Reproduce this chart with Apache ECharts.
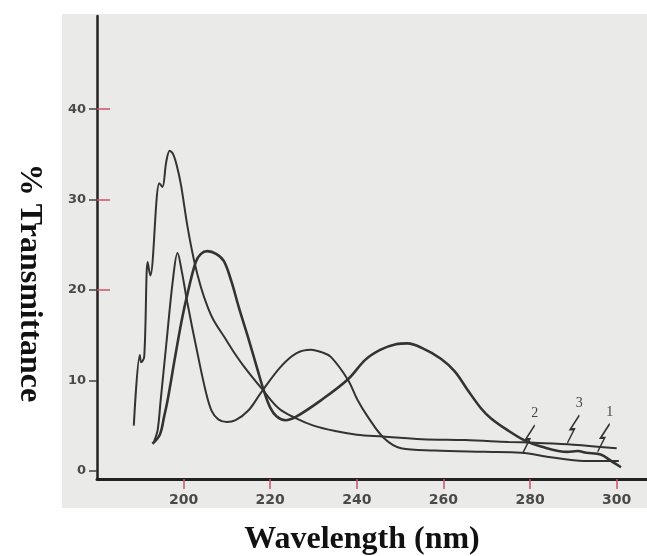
<!DOCTYPE html>
<html>
<head>
<meta charset="utf-8">
<script src="https://cdn.jsdelivr.net/npm/echarts@6/dist/echarts.min.js"></script>
<style>
  html, body { margin: 0; padding: 0; background: #fff; }
  #chart { width: 647px; height: 556px; }
</style>
</head>
<body>
<div id="chart"></div>
<script>
// tick labels
var xTicks = [200, 220, 240, 260, 280, 300];
var yTicks = [0, 10, 20, 30, 40];
var yRedTicks = [20, 30, 40];

// curve 1: broad peaks near 206 and 251 nm
var wl1 = [192.8, 194.5, 195.5, 196.3, 198.0, 199.5, 200.9, 202.8, 204.0, 205.5, 207.5, 209.3, 211.0, 212.8, 214.8, 217.0, 218.5, 220.0, 221.5, 223.5, 226.0, 231.7, 237.9, 242.0, 245.5, 249.0, 251.7, 255.0, 259.4, 262.6, 265.5, 268.7, 271.0, 274.8, 278.6, 282.5, 288.6, 291.0, 293.0, 296.3, 299.0, 301.0];
var t1 = [3.0, 4.0, 6.0, 7.8, 12.5, 16.5, 19.6, 23.1, 24.0, 24.3, 24.0, 23.2, 21.0, 18.0, 14.9, 11.3, 8.9, 7.0, 6.0, 5.6, 6.0, 7.8, 10.1, 12.3, 13.4, 14.0, 14.1, 13.6, 12.4, 11.0, 9.0, 6.9, 5.8, 4.5, 3.4, 2.7, 2.1, 2.2, 2.0, 1.8, 1.0, 0.4];

// curve 2: narrow peak near 199 nm, hump near 230 nm
var wl2 = [193.2, 194.0, 194.7, 196.0, 197.5, 198.6, 199.6, 200.9, 203.2, 205.1, 206.5, 208.0, 210.0, 212.0, 215.0, 217.8, 222.4, 226.0, 229.4, 232.0, 234.0, 237.9, 240.2, 242.5, 246.3, 250.2, 257.9, 269.4, 277.9, 284.8, 292.4, 300.5];
var t2 = [3.3, 4.5, 7.8, 14.0, 21.0, 24.1, 22.0, 18.5, 13.0, 8.8, 6.6, 5.7, 5.4, 5.6, 6.7, 8.6, 11.5, 13.0, 13.4, 13.1, 12.6, 10.1, 7.8, 6.0, 3.6, 2.5, 2.25, 2.1, 2.0, 1.5, 1.1, 1.1];

// curve 3: tall peak near 197 nm
var wl3 = [188.5, 189.9, 190.2, 190.9, 191.7, 192.3, 194.4, 195.1, 196.0, 196.8, 197.6, 198.5, 199.4, 200.9, 202.4, 204.0, 205.5, 207.0, 209.4, 211.5, 214.0, 218.2, 222.0, 226.0, 230.0, 235.0, 240.0, 246.0, 255.0, 265.0, 275.0, 281.0, 290.0, 300.0];
var t3 = [5.0, 12.8, 12.0, 12.6, 23.1, 21.6, 31.8, 31.4, 34.2, 35.4, 35.0, 33.6, 31.6, 27.0, 23.3, 20.3, 18.2, 16.6, 14.8, 13.2, 11.5, 9.0, 6.9, 5.8, 5.0, 4.4, 4.0, 3.8, 3.5, 3.4, 3.2, 3.1, 2.9, 2.5];

// where the numbered leader marks touch each curve
var labelAt1 = [295.6, 2.1];
var labelAt2 = [278.3, 1.95];
var labelAt3 = [288.6, 3.06];

function pairs(xs, ys) {
  return xs.map(function (x, i) {
    return [x, ys[i]];
  });
}

var zigzag = "path://M0,28 L7,14 L3,14 L12,0";

function leader(name, at) {
  return {
    symbol: zigzag,
    symbolSize: [12, 28],
    symbolOffset: [6, -14],
    silent: true,
    itemStyle: { color: "none", borderColor: "#333", borderWidth: 1.6 },
    label: {
      show: true,
      position: "top",
      distance: 1,
      offset: [6, 0],
      color: "#444",
      fontSize: 14,
      fontFamily: "Liberation Serif",
      formatter: name,
    },
    data: [{ name: name, coord: at }],
  };
}

function curve(name, xs, ys, width, at) {
  return {
    name: name,
    type: "line",
    data: pairs(xs, ys),
    showSymbol: false,
    symbol: "none",
    smooth: 0.35,
    lineStyle: { color: "#333", width: width },
    markPoint: leader(name, at),
  };
}

var myChart = echarts.init(document.getElementById("chart"));
var option = {
  backgroundColor: "#fff",
  animation: false,
  graphic: [
    {
      type: "rect",
      z: -10,
      silent: true,
      shape: { x: 62, y: 14, width: 585, height: 494 },
      style: { fill: "#eaeae8" },
    },
    {
      type: "text",
      x: 29,
      y: 283,
      rotation: -Math.PI / 2,
      style: {
        text: "% Transmittance",
        font: "bold 32px 'Liberation Serif'",
        fill: "#111",
        textAlign: "center",
        textVerticalAlign: "middle",
      },
    },
    {
      type: "text",
      x: 362,
      y: 540,
      style: {
        text: "Wavelength (nm)",
        font: "bold 32px 'Liberation Serif'",
        fill: "#111",
        textAlign: "center",
        textVerticalAlign: "middle",
      },
    },
  ],
  grid: { left: 97, right: 0, top: 16, bottom: 77 },
  xAxis: {
    type: "value",
    min: 180,
    max: 307,
    axisLine: { onZero: false, lineStyle: { color: "#222", width: 3 } },
    axisTick: {
      customValues: xTicks,
      length: 10,
      lineStyle: { color: "#d0506a", width: 1.5 },
    },
    axisLabel: {
      customValues: xTicks,
      margin: 14,
      color: "#4a4a4a",
      fontSize: 14,
      fontWeight: "bold",
      fontFamily: "DejaVu Sans",
    },
    splitLine: { show: false },
  },
  yAxis: [
    {
      type: "value",
      min: -0.9,
      max: 50.3,
      axisLine: { show: true, onZero: false, lineStyle: { color: "#222", width: 2.5 } },
      axisTick: {
        show: true,
        customValues: yTicks,
        length: 8,
        lineStyle: { color: "#444", width: 1.5 },
      },
      axisLabel: {
        customValues: yTicks,
        margin: 11,
        color: "#4a4a4a",
        fontSize: 13,
        fontWeight: "bold",
        fontFamily: "DejaVu Sans",
      },
      splitLine: { show: false },
    },
    {
      type: "value",
      min: -0.9,
      max: 50.3,
      position: "left",
      axisLine: { show: false, onZero: false },
      axisTick: {
        show: true,
        inside: true,
        customValues: yRedTicks,
        length: 13,
        lineStyle: { color: "#d0506a", width: 1.5 },
      },
      axisLabel: { show: false },
      splitLine: { show: false },
    },
  ],
  series: [
    curve("1", wl1, t1, 2.6, labelAt1),
    curve("2", wl2, t2, 2, labelAt2),
    curve("3", wl3, t3, 2, labelAt3),
  ],
};
myChart.setOption(option);
</script>
</body>
</html>
